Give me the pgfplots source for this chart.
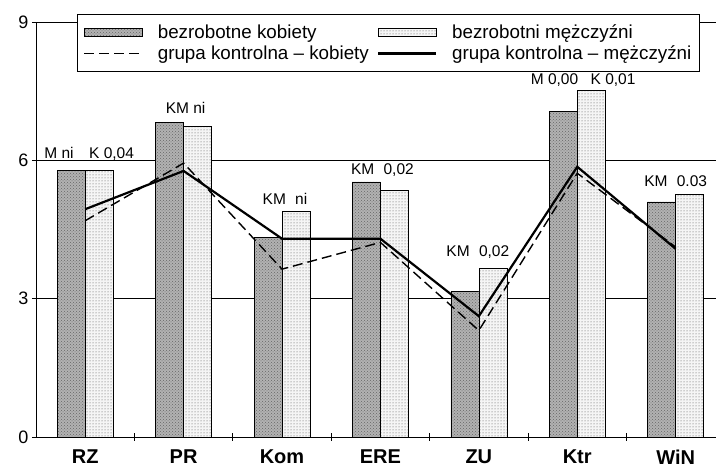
\documentclass[border=0pt]{standalone}
\usepackage{pgfplots}
\pgfplotsset{compat=1.18}
\usetikzlibrary{patterns}
\usepackage{fontspec}
\setmainfont{Liberation Sans}
\pgfplotsset{
  barleg/.style={legend image code/.code={\draw[##1] (0pt,-4pt) rectangle (58pt,4pt); \path (71pt,0pt);}},
  lineleg/.style={legend image code/.code={\draw[##1] (0pt,0pt) -- (58pt,0pt); \path (71pt,0pt);}},
}
\newcommand{\lf}{\fontsize{18.8}{22}\selectfont}

\begin{document}
\begin{tikzpicture}
\begin{axis}[
  scale only axis, width=680pt, height=415pt,
  xmin=-0.5, xmax=6.41, ymin=0, ymax=9,
  axis x line*=bottom, axis y line*=left,
  axis line style={line width=0.8pt},
  ytick={0,3,6,9},
  ymajorgrids, grid style={black, line width=0.7pt},
  xtick={0,...,6}, xticklabels={RZ,PR,Kom,ERE,ZU,Ktr,WiN},
  minor xtick={0.5,1.5,...,5.5},
  tick align=center,
  major tick length=8pt, minor tick length=8pt,
  major x tick style={draw=none},
  tick style={black, line width=0.8pt},
  xticklabel style={font=\fontsize{20}{22}\selectfont\bfseries, yshift=-5pt},
  yticklabel style={font=\fontsize{18}{20}\selectfont},
  /pgf/number format/assume math mode=true,
  legend style={at={(0.0603,1.019)}, anchor=north west, draw=black, line width=0.8pt,
    fill=white, inner xsep=6pt, inner ysep=8pt, row sep=2pt,
    /tikz/every even column/.append style={column sep=6pt}},
  legend columns=2, legend cell align=left,
]
\addplot[ybar, bar width=28pt, bar shift=-14pt, draw=black, line width=0.6pt,
  fill=gray!60, postaction={pattern=crosshatch dots, pattern color=black!60}, barleg]
  coordinates {(0,5.78) (1,6.82) (2,4.32) (3,5.53) (4,3.15) (5,7.06) (6,5.10)};
\addlegendentry{\lf bezrobotne kobiety}
\addplot[ybar, bar width=28pt, bar shift=14pt, draw=black, line width=0.6pt,
  fill=gray!8, postaction={pattern=dots, pattern color=black!70}, barleg]
  coordinates {(0,5.78) (1,6.73) (2,4.89) (3,5.34) (4,3.66) (5,7.51) (6,5.26)};
\addlegendentry{\lf bezrobotni mężczyźni}
\addplot[black, line width=1.4pt, dash pattern=on 10pt off 5pt, lineleg]
  coordinates {(0,4.69) (1,5.94) (2,3.64) (3,4.22) (4,2.31) (5,5.72) (6,4.12)};
\addlegendentry{\lf grupa kontrolna – kobiety}
\addplot[black, line width=2.2pt, lineleg]
  coordinates {(0,4.94) (1,5.77) (2,4.30) (3,4.30) (4,2.62) (5,5.86) (6,4.08)};
\addlegendentry{\lf grupa kontrolna – mężczyźni}

\begin{scope}[every node/.style={font=\fontsize{15.5}{17}\selectfont, inner sep=0pt}]
\node at (axis cs:0.04,6.15) {M ni\hspace{1em}K 0,04};
\node at (axis cs:1.02,7.13) {KM ni};
\node at (axis cs:2.03,5.16) {KM\hspace{0.6em}ni};
\node at (axis cs:3.02,5.79) {KM\hspace{0.6em}0,02};
\node at (axis cs:3.99,4.01) {KM\hspace{0.6em}0,02};
\node at (axis cs:5.06,7.74) {M 0,00\hspace{0.8em}K 0,01};
\node at (axis cs:6.00,5.54) {KM\hspace{0.6em}0.03};
\end{scope}
\end{axis}
\pgfresetboundingbox
\path ([shift={(-36pt,-35pt)}]current axis.south west) rectangle ([shift={(0pt,22pt)}]current axis.north east);
\end{tikzpicture}
\end{document}
